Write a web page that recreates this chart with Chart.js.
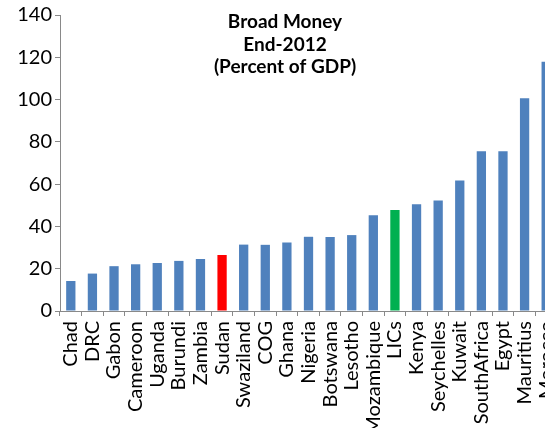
<!DOCTYPE html>
<html>
<head>
<meta charset="utf-8">
<script src="https://cdn.jsdelivr.net/npm/chart.js@4.4.1/dist/chart.umd.min.js"></script>
<style>
  html, body { margin: 0; padding: 0; background: #fff; overflow: hidden; }
  #wrap { width: 557px; height: 428px; }
</style>
</head>
<body>
<div id="wrap"><canvas id="moneyChart" width="557" height="428"></canvas></div>
<script>
const countries = ["Chad", "DRC", "Gabon", "Cameroon", "Uganda", "Burundi", "Zambia", "Sudan",
  "Swaziland", "COG", "Ghana", "Nigeria", "Botswana", "Lesotho", "Mozambique", "LICs",
  "Kenya", "Seychelles", "Kuwait", "SouthAfrica", "Egypt", "Mauritius", "Morocco"];
const broadMoney = [14.2, 17.7, 21.2, 22.1, 22.7, 23.7, 24.6, 26.5,
  31.4, 31.3, 32.4, 35.1, 35.0, 35.9, 45.3, 47.8,
  50.5, 52.3, 61.7, 75.6, 75.6, 100.6, 117.9];
const yTicks = [0, 20, 40, 60, 80, 100, 120, 140];
const titleLines = ["Broad Money", "End-2012", "(Percent of GDP)"];

const barColors = countries.map(c => c === "Sudan" ? "#FF0000" : c === "LICs" ? "#00B050" : "#4F81BD");

// title sits inside the plot area, so it is drawn by hand
const titlePlugin = {
  id: "innerTitle",
  afterDraw(chart) {
    const ctx = chart.ctx;
    ctx.save();
    ctx.font = "bold 19px Lato";
    ctx.fillStyle = "#000";
    ctx.textAlign = "center";
    ctx.textBaseline = "alphabetic";
    titleLines.forEach((line, i) => ctx.fillText(line, 285, 28 + i * 22.5));
    ctx.restore();
  }
};

new Chart(document.getElementById("moneyChart"), {
  type: "bar",
  data: {
    labels: countries,
    datasets: [{
      data: broadMoney,
      backgroundColor: barColors,
      barPercentage: 0.43,
      categoryPercentage: 1
    }]
  },
  options: {
    responsive: false,
    animation: false,
    layout: { padding: { top: 15, left: 0, right: 0, bottom: 0 } },
    plugins: { legend: { display: false }, tooltip: { enabled: false } },
    scales: {
      x: {
        grid: { display: true, drawOnChartArea: false, offset: true, color: "#898989", tickLength: 5 },
        border: { color: "#898989" },
        ticks: { maxRotation: 90, minRotation: 90, autoSkip: false, padding: 5, color: "#000", font: { family: "Lato", size: 20 } },
        afterFit: s => { s.height = 117; s.paddingLeft = 0; s.paddingRight = 0; }
      },
      y: {
        min: 0,
        max: 140,
        afterBuildTicks: s => { s.ticks = yTicks.map(v => ({ value: v })); },
        grid: { display: true, drawOnChartArea: false, color: "#898989", tickLength: 5 },
        border: { color: "#898989" },
        ticks: { padding: 3, color: "#000", font: { family: "Lato", size: 20 } },
        afterFit: s => { s.width = 60; s.paddingTop = 0; s.paddingBottom = 0; }
      }
    }
  },
  plugins: [titlePlugin]
});
</script>
</body>
</html>
